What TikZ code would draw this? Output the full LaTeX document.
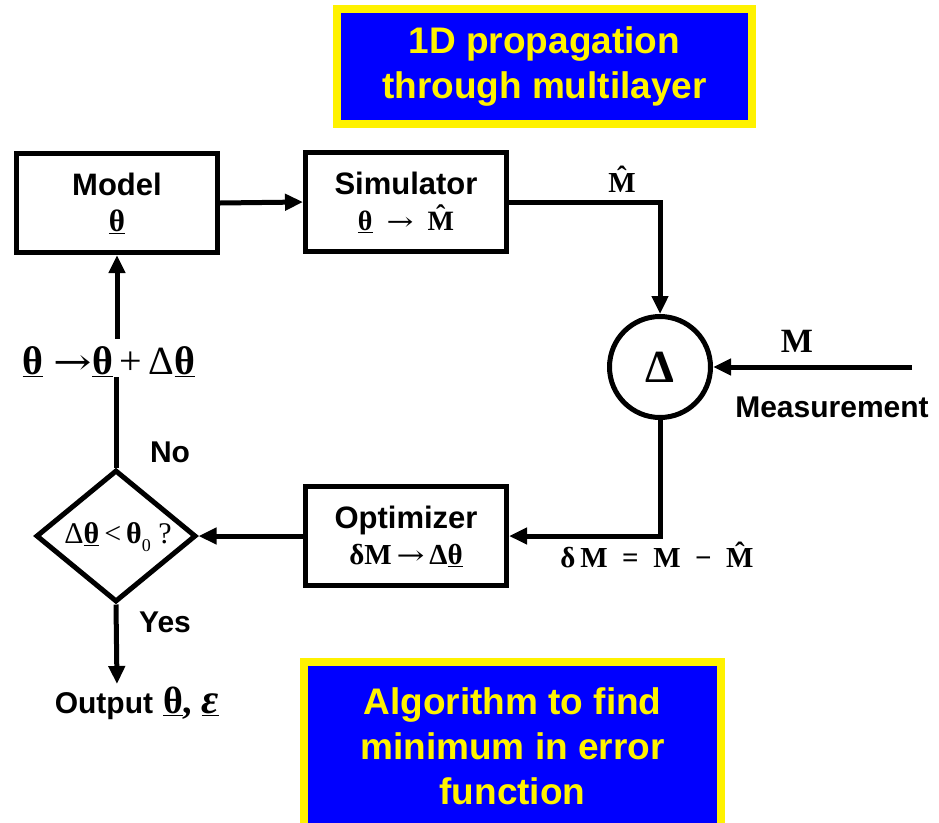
\documentclass[tikz,border=0pt]{standalone}
\usepackage{fontspec}
\setmainfont{Liberation Sans}
\newfontfamily\mf{Liberation Serif}
\newfontfamily\arrfont{DejaVu Serif}
\usetikzlibrary{arrows.meta,shapes.geometric}

\newcommand\sz[2]{\fontsize{#1}{#2}\selectfont}
\newcommand\uth{\underline{θ}}
\newcommand\hatM{\ooalign{M\cr\hidewidth\raisebox{0.2em}{ˆ}\hidewidth\cr}}
\newcommand\rarr{{\arrfont\mdseries\scalebox{1.15}[0.9]{→}}}

\begin{document}
\begin{tikzpicture}[x=1pt,y=-1pt,
  block/.style={draw, line width=5pt, minimum width=201pt, minimum height=99pt,
    align=center, inner sep=0pt, font=\sz{31}{36}\bfseries},
  wire/.style={line width=5pt},
  arrow/.style={wire, -{Triangle[length=18pt,width=16pt]}},
  banner/.style={fill=blue, draw=yellow, line width=8pt, text=yellow,
    align=center, inner sep=0pt, font=\sz{37}{45}\bfseries},
  lbl/.style={font=\sz{30}{30}\bfseries, inner sep=0pt},
  sym/.style={font=\mf\bfseries, inner sep=0pt}]
\useasboundingbox (0,0) rectangle (939,822);

% title banners
\node[banner, minimum width=415pt, minimum height=115pt] (title) at (544.5,66.5)
  {1D propagation\\through multilayer};
\node[banner, minimum width=417pt, minimum height=168pt] (algo) at (512.5,746)
  {Algorithm to find\\minimum in error\\function};

% blocks
\node[block] (model) at (117,203)
  {Model\\{\mf\sz{31}{31}\uth}};
\node[block] (sim) at (406,202)
  {Simulator\\{\mf\sz{28}{28}\uth\ \ \rarr\ \ \hatM}};
\node[block] (opt) at (406,536)
  {Optimizer\\{\mf\sz{29}{29}δM\,\rarr\,Δ\uth}};

% comparison node
\node[draw, circle, line width=5pt, minimum size=101pt, inner sep=0pt,
  font=\mf\bfseries\sz{46}{46}] (delta) at (660,367) {Δ};

% decision
\node[draw, diamond, line width=5pt, minimum width=160pt, minimum height=132pt,
  inner sep=0pt] (chk) at (116,536) {};
\node[font=\mf\sz{30}{30}, inner sep=0pt] (chktxt) at (118,537)
  {Δ{\bfseries\uth}\,<\,{\bfseries θ}\raisebox{-0.25em}{\sz{18}{18}0}\ ?};

% update rule
\node[font=\mf\sz{40}{40}, inner sep=0pt] (upd) at (109,362)
  {{\bfseries\uth}\ \rarr{\bfseries\uth}\,+\,Δ{\bfseries\uth}};

% free ends
\coordinate (meas) at (912,367);
\coordinate (out) at (117,684);

% labels
\node[sym, font=\mf\bfseries\sz{29}{29}] (mhat) at (622,183) {\hatM};
\node[sym, font=\mf\bfseries\sz{34}{34}] (mlab) at (797,341) {M};
\node[lbl] (measlab) at (832,407) {Measurement};
\node[sym, font=\mf\bfseries\sz{29}{29}] (dm) at (657,558) {δ\,M\ \ =\ \ M\ \ −\ \ \hatM};
\node[lbl] (no) at (170,452) {No};
\node[lbl] (yes) at (165,622) {Yes};
\node[inner sep=0pt, anchor=base] (outlab) at (137,713)
  {{\sz{30}{30}\bfseries Output}\hspace{10pt}{\mf\bfseries\sz{38}{38}\uth,\ \underline{\itshape\sz{42}{42}ε}}};

% connectors
\draw[arrow] (model.east) -- (sim.west);
\draw[arrow] (sim.east) -| (delta.north);
\draw[arrow] (meas) -- (delta.east);
\draw[arrow] (delta.south) |- (opt.east);
\draw[arrow] (opt.west) -- (chk.east);
\draw[wire] (upd.south -| chk.north) -- (chk.north);
\draw[arrow] (upd.north -| model.south) ++(0,-8) -- (model.south);
\draw[arrow] (chk.south) -- (out);
\end{tikzpicture}
\end{document}
